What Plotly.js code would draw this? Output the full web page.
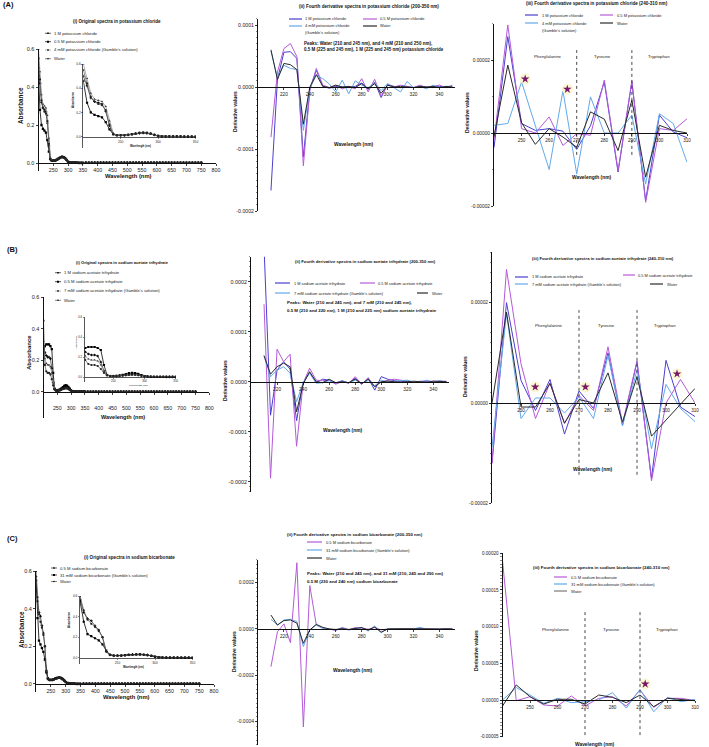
<!DOCTYPE html>
<html><head><meta charset="utf-8">
<script src="https://cdn.plot.ly/plotly-3.0.1.min.js"></script>
<style>html,body{margin:0;padding:0;background:#fff}#chart{width:709px;height:747px}</style>
</head><body><div id="chart"></div>
<script>
const W = 709, H = 747;
const FONT = '"Liberation Sans", Arial, Helvetica, sans-serif';

// ---------- wavelength grids ----------
const wlAbs = [200,205,210,215,220,225,230,235,240,245,250,255,260,265,270,275,280,285,290,295,300,305,310,315,320,325,330,335,340,345,350];
const wlTail = [360,370,380,390,400,410,420,430,440,450,460,470,480,490,500,510,520,530,540,550,560,570,580,590,600,610,620,630,640,650,660,670,680,690,700,710,720,730,740,750];
const wlD = [210,215,220,225,230,235,240,245,250,255,260,265,270,275,280,285,290,295,300,305,310,315,320,325,330,335,340,345,350];
const wlZ = [240,245,250,255,260,265,270,275,280,285,290,295,300,305,310];

// ---------- series names ----------
const namesA = ['1 M potassium chloride','0.5 M potassium chloride','4 mM potassium chloride (Gamble\'s solution)','Water'];
const namesB = ['1 M sodium acetate trihydrate','0.5 M sodium acetate trihydrate','7 mM sodium acetate trihydrate (Gamble\'s solution)','Water'];
const namesC = ['0.5 M sodium bicarbonate','31 mM sodium bicarbonate (Gamble\'s solution)','Water'];

// ---------- (i) absorbance spectra ----------
const absA_1M = [0.50,0.42,0.32,0.29,0.28,0.27,0.21,0.09,0.02,0.012,0.012,0.012,0.015,0.02,0.025,0.03,0.032,0.03,0.025,0.015,0.006,0.003,0.002,0.002,0.002,0.002,0.002,0.001,0.001,0.001,0.001];
const absA_05 = [0.46,0.28,0.20,0.18,0.17,0.16,0.12,0.06,0.02,0.012,0.012,0.013,0.016,0.021,0.026,0.031,0.034,0.031,0.026,0.016,0.007,0.003,0.002,0.002,0.002,0.002,0.002,0.001,0.001,0.001,0.001];
const absA_G  = [0.60,0.48,0.36,0.31,0.30,0.29,0.25,0.13,0.03,0.012,0.012,0.012,0.015,0.02,0.024,0.029,0.031,0.029,0.024,0.014,0.006,0.003,0.002,0.002,0.002,0.002,0.002,0.001,0.001,0.001,0.001];
const absA_W  = [0.55,0.44,0.33,0.29,0.27,0.26,0.22,0.10,0.02,0.011,0.011,0.011,0.014,0.019,0.024,0.028,0.03,0.028,0.023,0.014,0.006,0.003,0.002,0.002,0.002,0.002,0.002,0.001,0.001,0.001,0.001];
const tailA = [0.002,0.002,0.002,0.002,0.002,0.002,0.002,0.002,0.002,0.002,0.002,0.002,0.002,0.002,0.002,0.002,0.002,0.002,0.002,0.002,0.002,0.002,0.002,0.002,0.002,0.002,0.002,0.002,0.002,0.002,0.002,0.002,0.002,0.002,0.002,0.002,0.002,0.002,0.002,0.002];

const absB_1M = [0.28,0.25,0.23,0.22,0.22,0.21,0.15,0.06,0.02,0.01,0.01,0.01,0.012,0.016,0.022,0.027,0.03,0.029,0.023,0.015,0.008,0.004,0.003,0.002,0.002,0.002,0.002,0.001,0.001,0.001,0.001];
const absB_05 = [0.22,0.29,0.30,0.30,0.30,0.29,0.27,0.12,0.02,0.01,0.01,0.012,0.016,0.022,0.03,0.038,0.042,0.04,0.032,0.02,0.01,0.005,0.003,0.002,0.002,0.002,0.002,0.001,0.001,0.001,0.001];
const absB_G  = [0.32,0.21,0.18,0.17,0.17,0.16,0.12,0.05,0.018,0.01,0.01,0.01,0.012,0.015,0.02,0.024,0.026,0.025,0.02,0.013,0.007,0.004,0.003,0.002,0.002,0.002,0.002,0.001,0.001,0.001,0.001];
const absB_W  = [0.45,0.17,0.13,0.12,0.12,0.11,0.08,0.04,0.015,0.008,0.008,0.008,0.01,0.013,0.017,0.02,0.022,0.021,0.017,0.011,0.006,0.003,0.002,0.002,0.002,0.002,0.002,0.001,0.001,0.001,0.001];
const tailB = [0.002,0.002,0.002,0.002,0.002,0.002,0.002,0.002,0.002,0.002,0.002,0.002,0.002,0.002,0.002,0.002,0.002,0.002,0.002,0.002,0.002,0.002,0.002,0.002,0.002,0.002,0.002,0.002,0.002,0.002,0.002,0.002,0.002,0.002,0.002,0.002,0.002,0.002,0.002,0.002];

const absC_05 = [0.57,0.44,0.38,0.36,0.31,0.27,0.20,0.06,0.03,0.022,0.022,0.022,0.025,0.03,0.033,0.035,0.035,0.032,0.028,0.02,0.012,0.006,0.004,0.003,0.002,0.002,0.002,0.001,0.001,0.001,0.001];
const absC_G  = [0.55,0.35,0.23,0.21,0.19,0.17,0.13,0.07,0.03,0.022,0.022,0.022,0.025,0.028,0.03,0.032,0.033,0.03,0.025,0.018,0.01,0.005,0.003,0.002,0.002,0.002,0.002,0.001,0.001,0.001,0.001];
const absC_W  = [0.60,0.46,0.37,0.33,0.30,0.26,0.20,0.06,0.025,0.02,0.02,0.02,0.023,0.027,0.03,0.032,0.032,0.03,0.025,0.018,0.01,0.005,0.003,0.002,0.002,0.002,0.002,0.001,0.001,0.001,0.001];
const tailC = [0.002,0.002,0.002,0.002,0.002,0.002,0.002,0.002,0.002,0.002,0.002,0.002,0.002,0.002,0.002,0.002,0.002,0.002,0.002,0.002,0.002,0.002,0.002,0.002,0.002,0.002,0.002,0.002,0.002,0.002,0.002,0.002,0.002,0.002,0.002,0.002,0.002,0.002,0.002,0.002];

// ---------- (ii) fourth derivative 200-350 nm ----------
const dA_1M = [-16.7e-5,1.2e-5,5.6e-5,5.7e-5,4.6e-5,-11.3e-5,-0.3e-5,2.7e-5,0.1e-5,-0.2e-5,0.1e-5,0,-0.1e-5,0.1e-5,0.65e-5,-0.4e-5,0.8e-5,-1.7e-5,0.4e-5,0.1e-5,-0.1e-5,0.1e-5,-0.1e-5,0.1e-5,0,-0.1e-5,0.1e-5,0,0];
const dA_05 = [-8.1e-5,2.4e-5,6.2e-5,7.0e-5,4.9e-5,-12.7e-5,-0.5e-5,3.0e-5,0.3e-5,-0.1e-5,0.3e-5,-0.3e-5,0.1e-5,-0.3e-5,1.35e-5,-0.8e-5,1.25e-5,-1.45e-5,0.3e-5,0,0.3e-5,0.1e-5,-0.1e-5,0.3e-5,-0.1e-5,0.1e-5,0.3e-5,-0.1e-5,0.3e-5];
const dA_G  = [5.8e-5,1.5e-5,3.5e-5,3.0e-5,2.8e-5,-7.0e-5,-0.2e-5,1.9e-5,1.35e-5,0.5e-5,-0.8e-5,1.1e-5,-1.1e-5,1.0e-5,0.3e-5,-0.1e-5,0.65e-5,-0.55e-5,0.55e-5,-0.1e-5,-0.8e-5,0.9e-5,-0.1e-5,0.1e-5,-0.3e-5,0.3e-5,-0.1e-5,0.1e-5,0.1e-5];
const dA_W  = [6.0e-5,1.2e-5,3.8e-5,3.6e-5,2.8e-5,-6.0e-5,0,2.0e-5,0.1e-5,-0.1e-5,0.3e-5,0,0.1e-5,-0.1e-5,0.55e-5,-0.3e-5,0.55e-5,-1.0e-5,0.3e-5,0,0.1e-5,0,-0.1e-5,0.1e-5,0,0.1e-5,-0.1e-5,0.1e-5,0];

const dB_1M = [27e-5,-6.7e-5,2.3e-5,4.0e-5,2.5e-5,-7.8e-5,-0.2e-5,1.8e-5,-0.2e-5,0.5e-5,0.3e-5,-0.3e-5,0.2e-5,-0.3e-5,0.7e-5,-0.5e-5,0.7e-5,-1.7e-5,1.0e-5,0.5e-5,0.2e-5,0,0.1e-5,-0.1e-5,0,0.1e-5,-0.1e-5,0.1e-5,0];
const dB_05 = [15.5e-5,-19.3e-5,6.5e-5,4.0e-5,5.5e-5,-12.9e-5,-0.3e-5,2.7e-5,0.3e-5,0.2e-5,0.3e-5,-0.5e-5,0,-0.3e-5,1.0e-5,-0.5e-5,0.8e-5,-1.0e-5,0,0.3e-5,0.5e-5,0.3e-5,0.1e-5,-0.1e-5,0.1e-5,0,0.1e-5,0.1e-5,0.1e-5];
const dB_G  = [5.2e-5,1.0e-5,2.3e-5,3.0e-5,1.7e-5,-4.0e-5,-0.2e-5,1.7e-5,-0.3e-5,-0.2e-5,0.2e-5,-0.2e-5,0.1e-5,-0.2e-5,0.3e-5,-0.3e-5,0.2e-5,-0.8e-5,0.3e-5,-0.1e-5,0.1e-5,0.2e-5,0.3e-5,-0.1e-5,0,0.3e-5,-0.1e-5,0.2e-5,-0.2e-5];
const dB_W  = [5.2e-5,1.5e-5,3.0e-5,3.7e-5,3.0e-5,-6.0e-5,-0.5e-5,2.0e-5,0,-0.2e-5,0.5e-5,-0.2e-5,0,-0.2e-5,0.5e-5,-0.4e-5,0.5e-5,-1.0e-5,0,0.1e-5,0,-0.1e-5,0,0.1e-5,0,-0.1e-5,0.1e-5,0,0];

const dC_05 = [-16.3e-5,-1.2e-5,2.2e-5,-5.9e-5,28.6e-5,-42.3e-5,18.7e-5,1.7e-5,0.3e-5,0,-0.7e-5,0.7e-5,-0.4e-5,0.6e-5,0.3e-5,-0.1e-5,0.7e-5,-0.4e-5,0,-0.2e-5,0.1e-5,0,-0.1e-5,0.1e-5,0,0,0.1e-5,0,0];
const dC_G  = [4.2e-5,1.7e-5,3.9e-5,4.2e-5,3.2e-5,-7.6e-5,-0.4e-5,1.7e-5,0.3e-5,-0.1e-5,-0.4e-5,0.3e-5,-0.4e-5,0,0.7e-5,-0.9e-5,1.3e-5,-1.6e-5,0.1e-5,0,-0.2e-5,0.1e-5,0,0.7e-5,-0.1e-5,0,-0.2e-5,0.1e-5,0];
const dC_W  = [6.0e-5,1.7e-5,3.6e-5,3.9e-5,2.5e-5,-6.2e-5,-0.4e-5,2.0e-5,0.7e-5,0,-0.2e-5,0.1e-5,-0.2e-5,0.3e-5,0.6e-5,-0.5e-5,0.8e-5,-1.4e-5,0,0.1e-5,0,0,0.1e-5,0.1e-5,0,-0.1e-5,0,0.1e-5,0];

// ---------- (iii) fourth derivative 240-310 nm ----------
const zA_1M = [-0.4e-5,2.64e-5,0.26e-5,0.07e-5,0.12e-5,0.05e-5,-0.45e-5,0.2e-5,1.4e-5,-1.07e-5,1.4e-5,-1.85e-5,0.49e-5,0.03e-5,-0.13e-5];
const zA_05 = [-0.2e-5,2.96e-5,0.12e-5,0,0.44e-5,-0.34e-5,-0.02e-5,-0.06e-5,1.45e-5,-1.03e-5,1.43e-5,-1.9e-5,0.12e-5,0.07e-5,0.39e-5];
const zA_G  = [0.21e-5,0.26e-5,1.4e-5,0.2e-5,-1.0e-5,1.16e-5,-1.12e-5,0.99e-5,0,0,0.49e-5,-1.4e-5,0.53e-5,0.26e-5,-0.8e-5];
const zA_W  = [-0.1e-5,1.86e-5,0.28e-5,-0.31e-5,0.12e-5,-0.11e-5,-0.39e-5,0.58e-5,0.38e-5,-0.48e-5,0.9e-5,-1.21e-5,0.21e-5,0.07e-5,0];

const zB_1M = [-1.2e-5,2.0e-5,0.45e-5,-0.15e-5,0.47e-5,-0.62e-5,0.24e-5,-0.11e-5,1.0e-5,-0.45e-5,0.82e-5,-1.5e-5,0.85e-5,-0.08e-5,-0.27e-5];
const zB_05 = [-1.2e-5,2.66e-5,0.78e-5,-0.31e-5,0.4e-5,-0.41e-5,0.15e-5,-0.15e-5,1.12e-5,-0.41e-5,0.84e-5,-1.55e-5,0,0.47e-5,0];
const zB_G  = [-0.88e-5,1.78e-5,-0.31e-5,0.1e-5,0.1e-5,-0.2e-5,0.12e-5,-0.31e-5,0.95e-5,-0.45e-5,0.66e-5,-0.91e-5,0.37e-5,-0.11e-5,-0.37e-5];
const zB_W  = [0,1.81e-5,-0.08e-5,-0.08e-5,0.39e-5,-0.4e-5,0.07e-5,0,0.6e-5,-0.38e-5,0.52e-5,-0.66e-5,-0.34e-5,-0.03e-5,0.29e-5];

const zC_05 = [19.0e-5,-0.1e-5,0.45e-5,-0.68e-5,-0.82e-5,0.55e-5,-0.82e-5,0.23e-5,0.45e-5,-0.82e-5,1.36e-5,-1.0e-5,0.23e-5,0.23e-5,-0.1e-5];
const zC_G  = [0,1.7e-5,0.68e-5,-0.45e-5,0.23e-5,-0.36e-5,-0.23e-5,0,1.0e-5,-1.1e-5,1.45e-5,-1.6e-5,0.36e-5,-0.23e-5,0.1e-5];
const zC_W  = [-0.82e-5,2.05e-5,0.45e-5,-0.55e-5,0.1e-5,0.1e-5,-0.55e-5,0.68e-5,0.36e-5,-0.36e-5,0.68e-5,-0.9e-5,0.23e-5,0.1e-5,-0.1e-5];

// ---------- markers of interest (stars) ----------
const starA_x = [251.3, 266.6], starA_y = [1.48e-5, 1.2e-5];
const starB_x = [254.9, 272.2, 303.8], starB_y = [0.32e-5, 0.32e-5, 0.58e-5];
const starC_x = [291.9], starC_y = [2.18e-5];

// ---------- amino acid regions ----------
const aminoNames = ['Phenylalanine','Tyrosine','Tryptophan'];
const aminoX = [259.5, 279.5, 299.8];
const regionBounds = [270, 290];

// ---------- tick labels ----------
const tickAbsX = [250,300,350,400,450,500,550,600,650,700,750,800];
const tickAbsY = [0,0.2,0.4,0.6], tickAbsYText = ['0.0','0.2','0.4','0.6'];
const tickInsetX = [250,300,350];
const tickDX = [220,240,260,280,300,320,340];
const tickZX = [250,260,270,280,290,300,310];
const tickA2Y = [0.0001,0,-0.0001,-0.0002], tickA2YText = ['0.0001','0.0000','-0.0001','-0.0002'];
const tickB2Y = [0.0002,0.0001,0,-0.0001,-0.0002], tickB2YText = ['0.0002','0.0001','0.0000','-0.0001','-0.0002'];
const tickC2Y = [0.0002,0,-0.0002,-0.0004], tickC2YText = ['0.0002','0.0000','-0.0002','-0.0004'];
const tick3Y = [0.00002,0,-0.00002], tick3YText = ['0.00002','0.00000','-0.00002'];
const tickC3Y = [0.0002,0.00015,0.0001,0.00005,0,-0.00005], tickC3YText = ['0.00020','0.00015','0.00010','0.00005','0.00000','-0.00005'];

// ---------- styles ----------
const C1M = '#4a3fcf', C05 = '#b45ad8', CG = '#62a9ea', CW = '#2a2a2a';

const layout = {width:W, height:H, margin:{l:0,r:0,t:0,b:0}, paper_bgcolor:'#fff', plot_bgcolor:'rgba(0,0,0,0)',
  showlegend:false, font:{family:FONT, size:5, color:'#111'}, annotations:[], shapes:[]};

function axes(c){
  const xn = c.n===1?'xaxis':'xaxis'+c.n, yn = c.n===1?'yaxis':'yaxis'+c.n;
  const xid = c.n===1?'x':'x'+c.n;
  const pyZero = c.ytop + c.yr[1]/(c.yr[1]-c.yr[0])*(c.ybot-c.ytop);
  layout[xn] = {domain:[c.x0/W, c.x1/W], range:c.xr, anchor:'free', position:1-pyZero/H,
    showline:true, linecolor:'#111', linewidth:c.xlw||1, ticks:'outside', ticklen:c.tl||2, tickwidth:c.tw||0.8, tickcolor:'#111',
    tickmode:'array', tickvals:c.xt, ticktext:c.xt.map(String), tickfont:{family:FONT, size:c.xfs, color:'#222'},
    showgrid:false, zeroline:false, fixedrange:true};
  if (c.standoff) layout[xn].ticklabelstandoff = c.standoff;
  layout[yn] = {domain:[1-c.ybot/H, 1-c.ytop/H], range:c.yr, anchor:xid,
    showline:true, linecolor:'#111', linewidth:c.ylw||1, ticks:'outside', ticklen:c.tl||2, tickwidth:c.tw||0.8, tickcolor:'#111',
    tickmode:'array', tickvals:c.yt, ticktext:c.ytt, tickfont:{family:FONT, size:c.yfs, color:'#222'},
    showgrid:false, zeroline:false, fixedrange:true};
  if (c.minor) layout[yn].minor = {tickmode:'linear', tick0:0, dtick:c.minor, ticks:'outside', ticklen:1.2, tickwidth:0.5, tickcolor:'#111', showgrid:false};
}

const P = {
  A1: {n:1, x0:38.5, x1:216, xr:[200,800], yr:[-0.04,0.6], ytop:49, ybot:170.6, xt:tickAbsX, yt:tickAbsY, ytt:tickAbsYText, xfs:5.3, yfs:5.5},
  A1i:{n:2, x0:83.3, x1:195.5, xr:[200,350], yr:[-0.09,0.6], ytop:64, ybot:147.6, xt:tickInsetX, yt:tickAbsY, ytt:tickAbsYText, xfs:3.2, yfs:3.2, tl:1.3, tw:0.5, xlw:0.7, ylw:0.7},
  A2: {n:3, x0:258, x1:455, xr:[200,352], yr:[-0.0002,0.00011], ytop:18.8, ybot:211, xt:tickDX, yt:tickA2Y, ytt:tickA2YText, xfs:4.8, yfs:5.2, minor:0.00001, xlw:1.2},
  A3: {n:4, x0:494, x1:687, xr:[240,310], yr:[-0.00002,0.00003], ytop:23.5, ybot:206, xt:tickZX, yt:tick3Y, ytt:tick3YText, xfs:4.6, yfs:4.8, minor:0.00001, xlw:1.2},
  B1: {n:5, x0:43.5, x1:209.3, xr:[200,800], yr:[-0.165,0.6], ytop:297, ybot:418, xt:tickAbsX, yt:tickAbsY, ytt:tickAbsYText, xfs:5.3, yfs:5.5, standoff:9},
  B1i:{n:6, x0:84.6, x1:175.7, xr:[204,350], yr:[-0.05,0.6], ytop:317, ybot:382, xt:tickInsetX, yt:tickAbsY, ytt:tickAbsYText, xfs:2.8, yfs:2.8, tl:1.3, tw:0.5, xlw:0.7, ylw:0.7},
  B2: {n:7, x0:251, x1:449, xr:[200,352], yr:[-0.00022,0.00025], ytop:256.7, ybot:491.7, xt:tickDX, yt:tickB2Y, ytt:tickB2YText, xfs:4.8, yfs:5.4, minor:0.00001, xlw:1.2},
  B3: {n:8, x0:492, x1:695, xr:[240,310], yr:[-0.00002,0.00003], ytop:252.4, ybot:503.4, xt:tickZX, yt:tick3Y, ytt:tick3YText, xfs:4.6, yfs:4.8, minor:0.000002, xlw:1.2},
  C1: {n:9, x0:36, x1:214, xr:[200,800], yr:[-0.04,0.6], ytop:571, ybot:691.5, xt:tickAbsX, yt:tickAbsY, ytt:tickAbsYText, xfs:5.3, yfs:5.5},
  C1i:{n:10, x0:80, x1:192.5, xr:[200,350], yr:[-0.06,0.6], ytop:596, ybot:664, xt:tickInsetX, yt:tickAbsY, ytt:tickAbsYText, xfs:3.2, yfs:3.2, tl:1.3, tw:0.5, xlw:0.7, ylw:0.7},
  C2: {n:11, x0:258, x1:455, xr:[200,352], yr:[-0.0005,0.0003], ytop:559.5, ybot:744.75, xt:tickDX, yt:tickC2Y, ytt:tickC2YText, xfs:4.8, yfs:5.0, minor:0.00002, xlw:1.2},
  C3: {n:12, x0:502.5, x1:695, xr:[240,310], yr:[-0.00005,0.0002], ytop:553.2, ybot:736.7, xt:tickZX, yt:tickC3Y, ytt:tickC3YText, xfs:4.6, yfs:4.6, minor:0.000005, xlw:1.2},
};
Object.values(P).forEach(axes);

function ids(n){ return n===1 ? ['x','y'] : ['x'+n,'y'+n]; }
const traces = [];
function line(n, x, y, color, w){
  const [xa, ya] = ids(n);
  traces.push({type:'scatter', mode:'lines', x, y, xaxis:xa, yaxis:ya, line:{color, width:w||1}, hoverinfo:'skip'});
}
function absTr(n, x, y, st, msize){
  const [xa, ya] = ids(n);
  traces.push({type:'scatter', mode:'lines+markers', x, y, xaxis:xa, yaxis:ya,
    line:{color:st.lc, width:st.lw}, marker:{symbol:st.sym, size:msize, color:st.mc, line:{width:0}}, hoverinfo:'skip'});
}
const stA = [
  {lc:'#222', lw:0.7, sym:'cross', mc:'#000'},
  {lc:'#000', lw:0.8, sym:'square', mc:'#000'},
  {lc:'#9a9a9a', lw:0.8, sym:'triangle-up', mc:'#333'},
  {lc:'#555', lw:0.7, sym:'circle', mc:'#222'}
];
const stC = [stA[0], stA[1], stA[3]];

// (i) panels: main + inset
[[absA_1M,absA_05,absA_G,absA_W],[absB_1M,absB_05,absB_G,absB_W],[absC_05,absC_G,absC_W]].forEach((set, r) => {
  const tail = [tailA, tailB, tailC][r];
  const nMain = [1,5,9][r], nIns = [2,6,10][r];
  const styles = r===2 ? stC : stA;
  set.forEach((s, i) => {
    absTr(nMain, wlAbs.concat(wlTail), s.concat(tail), styles[i], 2.3);
    absTr(nIns, wlAbs, s, styles[i], 2.2);
  });
});

// (ii) and (iii) derivative panels
line(3, wlD, dA_1M, C1M); line(3, wlD, dA_05, C05); line(3, wlD, dA_G, CG); line(3, wlD, dA_W, CW);
line(4, wlZ, zA_1M, C1M); line(4, wlZ, zA_05, C05); line(4, wlZ, zA_G, CG); line(4, wlZ, zA_W, CW);
line(7, wlD, dB_1M, C1M); line(7, wlD, dB_05, C05); line(7, wlD, dB_G, CG); line(7, wlD, dB_W, CW);
line(8, wlZ, zB_1M, C1M); line(8, wlZ, zB_05, C05); line(8, wlZ, zB_G, CG); line(8, wlZ, zB_W, CW);
line(11, wlD, dC_05, C05); line(11, wlD, dC_G, CG); line(11, wlD, dC_W, CW);
line(12, wlZ, zC_05, C05); line(12, wlZ, zC_G, CG); line(12, wlZ, zC_W, CW);

// stars
[[4,starA_x,starA_y],[8,starB_x,starB_y],[12,starC_x,starC_y]].forEach(([n,sx,sy]) => {
  const [xa, ya] = ids(n);
  traces.push({type:'scatter', mode:'markers', x:sx, y:sy, xaxis:xa, yaxis:ya, marker:{symbol:'circle', size:11, color:'rgba(250,246,205,0.9)'}, hoverinfo:'skip', cliponaxis:false});
  traces.push({type:'scatter', mode:'markers', x:sx, y:sy, xaxis:xa, yaxis:ya, marker:{symbol:'star', size:6.5, color:'#7a1769'}, hoverinfo:'skip', cliponaxis:false});
});

// region dividers + amino acid labels
[[4, 2.27e-5, -0.6e-5, 2.1e-5],[8, 1.85e-5, -1.43e-5, 1.55e-5],[12, 12.3e-5, -5.6e-5, 9.55e-5]].forEach(([n, ytop, ybot, ylab]) => {
  const [xa, ya] = ids(n);
  regionBounds.forEach(b => layout.shapes.push({type:'line', xref:xa, yref:ya, x0:b, x1:b, y0:ybot, y1:ytop, line:{color:'#333', width:0.9, dash:'dot'}}));
  aminoNames.forEach((nm, i) => layout.annotations.push({xref:xa, yref:ya, x:aminoX[i], y:ylab, text:nm, showarrow:false, font:{family:FONT, size:4.3, color:'#222'}}));
});

// ---------- text helpers ----------
function txt(xpx, py, s, size, o){
  o = o || {};
  layout.annotations.push({xref:'paper', yref:'paper', x:xpx/W, y:1-py/H, text:s, showarrow:false,
    xanchor:o.xa||'center', yanchor:'middle', textangle:o.ang||0, borderpad:0,
    font:{family:FONT, size, color:o.color||'#111'}});
}
function seg(x0, py0, x1, py1, color, width){
  layout.shapes.push({type:'line', xref:'paper', yref:'paper', x0:x0/W, y0:1-py0/H, x1:x1/W, y1:1-py1/H, line:{color, width}});
}
function mk(xc, py, size, color, round){
  layout.shapes.push({type: round?'circle':'rect', xref:'paper', yref:'paper', x0:(xc-size/2)/W, x1:(xc+size/2)/W, y0:1-(py+size/2)/H, y1:1-(py-size/2)/H, fillcolor:color, line:{width:0}});
}

// panel letters
txt(2, 5, '<b>(A)</b>', 7.5, {xa:'left'});
txt(6, 250, '<b>(B)</b>', 7.5, {xa:'left'});
txt(6, 538, '<b>(C)</b>', 7.5, {xa:'left'});

// titles
txt(117, 21, '<b>(i) Original spectra in potassium chloride</b>', 4.5);
txt(369, 6.7, '<b>(ii) Fourth derivative spectra in potassium chloride (200-350 nm)</b>', 4.6);
txt(597, 3.5, '<b>(iii) Fourth derivative spectra in potassium chloride (240-310 nm)</b>', 4.6);
txt(122.5, 263, '<b>(i) Original spectra in sodium acetate trihydrate</b>', 4.1);
txt(365, 262, '<b>(ii) Fourth derivative spectra in sodium acetate trihydrate (200-350 nm)</b>', 4.2);
txt(603, 258, '<b>(iii) Fourth derivative spectra in sodium acetate trihydrate (240-310 nm)</b>', 4.2);
txt(129, 557, '<b>(i) Original spectra in sodium bicarbonate</b>', 4.6);
txt(355, 534, '<b>(ii) Fourth derivative spectra in sodium bicarbonate (200-350 nm)</b>', 4.4);
txt(601, 567, '<b>(iii) Fourth derivative spectra in sodium bicarbonate (240-310 nm)</b>', 4.4);

// axis titles (i)
txt(21, 106, '<b>Absorbance</b>', 6.3, {ang:-90});
txt(128, 175.5, '<b>Wavelength (nm)</b>', 5.8);
txt(29, 353, '<b>Absorbance</b>', 6.0, {ang:-90});
txt(123, 417, '<b>Wavelength (nm)</b>', 5.5);
txt(21, 630, '<b>Absorbance</b>', 6.3, {ang:-90});
txt(126, 697, '<b>Wavelength (nm)</b>', 5.8);
// insets
txt(73, 100, '<b>Absorbance</b>', 2.8, {ang:-90});
txt(140, 146, '<b>Wavelength (nm)</b>', 2.6);
txt(77, 342, 'Absorbance', 2.5, {ang:-90});
txt(138, 385.5, 'Wavelength (nm)', 2.5);
txt(69, 620, '<b>Absorbance</b>', 2.8, {ang:-90});
txt(133, 667, '<b>Wavelength (nm)</b>', 2.6);
// derivative axis titles
[[235,112,354,145],[467,113,592,178],[225,381,343,431],[465,377,593,469],[234,652,353,670],[476,650,595,744]].forEach(a => {
  txt(a[0], a[1], '<b>Derivative values</b>', 5.0, {ang:-90});
  txt(a[2], a[3], '<b>Wavelength (nm)</b>', 4.9);
});

// peaks text
txt(302.7, 43, '<b>Peaks: Water (210 and 245 nm), and 4 mM (210 and 250 nm),</b>', 4.5, {xa:'left'});
txt(302.7, 49.5, '<b>0.5 M (225 and 245 nm), 1 M (225 and 245 nm) potassium chloride</b>', 4.5, {xa:'left'});
txt(285.7, 302.3, '<b>Peaks: Water (210 and 245 nm), and 7 mM (210 and 245 nm),</b>', 4.4, {xa:'left'});
txt(285.7, 310, '<b>0.5 M (210 and 220 nm), 1 M (210 and 225 nm) sodium acetate trihydrate</b>', 4.4, {xa:'left'});
txt(306, 573, '<b>Peaks: Water (210 and 245 nm), and 31 mM (210, 245 and 290 nm)</b>', 4.4, {xa:'left'});
txt(306, 581, '<b>0.5 M (230 and 240 nm) sodium bicarbonate</b>', 4.4, {xa:'left'});

// legends for (i) panels
function absLegend(x0, rows, names, styles){
  names.forEach((nm, i) => {
    seg(x0, rows[i], x0+6, rows[i], styles[i].lc, 0.7);
    mk(x0+3, rows[i], styles[i].sym==='square' ? 2 : 1.5, '#000', styles[i].sym==='circle');
    txt(x0+8, rows[i], nm, 4.2, {xa:'left', color:'#222'});
  });
}
absLegend(45, [33.3,41.7,50,58.7], namesA, stA);
absLegend(55, [272.7,281.7,291,300.3], namesB, stA);
absLegend(51, [568,575,581.5], namesC, stC);

// legends for derivative panels
function dLeg(x0, x1, py, color, name, tx, size){
  seg(x0, py, x1, py, color, 1.2);
  txt(tx, py, name, size || 4.0, {xa:'left', color:'#222'});
}
// A(ii)
dLeg(289, 302, 19, C1M, namesA[0], 304);
dLeg(363, 377, 19, C05, namesA[1], 379);
dLeg(289, 302, 26, CG, '4 mM potassium chloride', 304);
dLeg(363, 377, 26, CW, namesA[3], 379);
txt(304, 33, '(Gamble\'s solution)', 4.0, {xa:'left', color:'#222'});
// A(iii)
dLeg(525, 538, 15, C1M, namesA[0], 541);
dLeg(600, 613, 15, C05, namesA[1], 616);
dLeg(525, 538, 23, CG, '4 mM potassium chloride', 541);
dLeg(600, 613, 23, CW, namesA[3], 616);
txt(541, 30, '(Gamble\'s solution)', 4.0, {xa:'left', color:'#222'});
// B(ii)
dLeg(275, 290, 283, C1M, namesB[0], 293, 3.9);
dLeg(360, 375, 283, C05, namesB[1], 377, 3.9);
dLeg(275, 290, 293, CG, namesB[2], 293, 3.9);
dLeg(417, 428, 293, CW, namesB[3], 431, 3.9);
// B(iii)
dLeg(515, 528, 277, C1M, namesB[0], 531, 3.9);
dLeg(623, 635, 275, C05, namesB[1], 637, 3.9);
dLeg(515, 528, 284, CG, namesB[2], 531, 3.9);
dLeg(650, 663, 284, CW, namesB[3], 666, 3.9);
// C(ii)
dLeg(307, 322, 542, C05, namesC[0], 325);
dLeg(307, 322, 550, CG, namesC[1], 325);
dLeg(307, 322, 558, CW, namesC[2], 325);
// C(iii)
dLeg(554, 567, 577, C05, namesC[0], 570);
dLeg(554, 567, 584, CG, namesC[1], 570);
dLeg(554, 567, 591, '#777', namesC[2], 570);

Plotly.newPlot('chart', traces, layout, {staticPlot:true, displayModeBar:false});
</script>
</body></html>
